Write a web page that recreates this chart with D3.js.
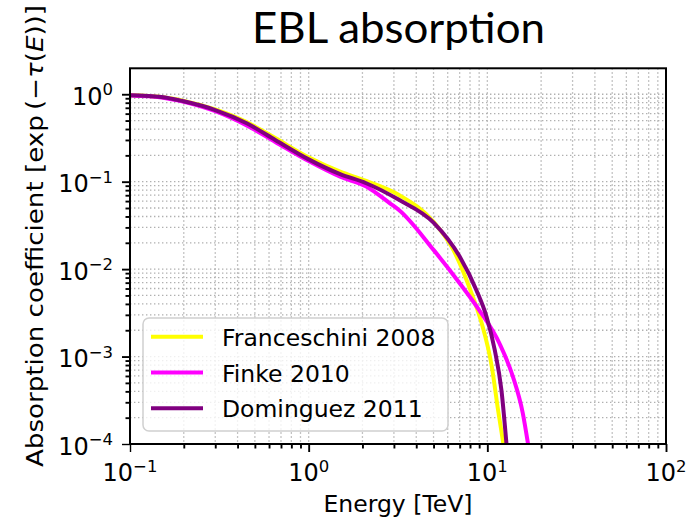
<!DOCTYPE html>
<html>
<head>
<meta charset="utf-8">
<script src="https://cdn.jsdelivr.net/npm/d3@7"></script>
<style>
  body { margin: 0; background: #fff; }
  text { font-family: "DejaVu Sans", sans-serif; fill: #000; }
</style>
</head>
<body>
<div id="chart"></div>
<script>
var width = 697,
    height = 519;

// EBL models: energy [TeV] and exp(-tau)
var energyFranceschini = [0.1, 0.15, 0.2, 0.3, 0.45, 0.65, 1.0, 1.5, 2.1, 3.2, 5.0, 6.45, 8.3, 9.3, 10.6, 11.5, 12.3];
var absFranceschini = [0.975, 0.93, 0.84, 0.67, 0.48, 0.315, 0.19, 0.13, 0.102, 0.0705, 0.0348, 0.0166, 0.0048, 0.0024, 0.00076, 0.00024, 0.0001];

var energyFinke = [0.1, 0.15, 0.2, 0.3, 0.45, 0.65, 1.0, 1.5, 2.1, 2.85, 3.2, 5.0, 7.0, 9.0, 11.7, 13.9, 15.8, 16.9];
var absFinke = [0.97, 0.92, 0.82, 0.64, 0.44, 0.285, 0.172, 0.114, 0.088, 0.0566, 0.0475, 0.0166, 0.0069, 0.0034, 0.00141, 0.00059, 0.000224, 0.0001];

var energyDominguez = [0.1, 0.15, 0.2, 0.3, 0.45, 0.65, 1.0, 1.5, 2.1, 3.2, 5.0, 7.0, 8.7, 9.9, 11.0, 12.0, 12.8];
var absDominguez = [0.975, 0.93, 0.83, 0.66, 0.466, 0.30, 0.18, 0.122, 0.096, 0.062, 0.034, 0.0139, 0.0057, 0.00285, 0.00119, 0.00041, 0.0001];

var seriesNames = ["Franceschini 2008", "Finke 2010", "Dominguez 2011"];
var seriesColors = ["#ffff00", "#ff00ff", "#800080"];

var xMajor = [0.1, 1, 10, 100];
var yMajor = [1e-4, 1e-3, 1e-2, 1e-1, 1];

var plotLeft = 130, plotRight = 666, plotTop = 68.3, plotBottom = 444;

var svg = d3.select("#chart").append("svg")
    .attr("width", width)
    .attr("height", height);

var x = d3.scaleLog().domain([0.1, 100]).range([plotLeft, plotRight]);
var y = d3.scaleLog().domain([1e-4, 1.98]).range([plotBottom, plotTop]);

// minor positions 2..9 in each decade
function minors(lo, hi) {
    var out = [];
    for (var e = lo; e < hi; e++) {
        for (var k = 2; k <= 9; k++) out.push(k * Math.pow(10, e));
    }
    return out;
}
var xMinor = minors(-1, 2);
var yMinor = minors(-4, 0);

/** grid, both major and minor, dotted */
var grid = svg.append("g").attr("class", "grid");
grid.selectAll(".vgrid")
    .data(xMajor.concat(xMinor))
    .enter().append("line")
    .attr("x1", function(d) { return x(d); })
    .attr("x2", function(d) { return x(d); })
    .attr("y1", plotTop)
    .attr("y2", plotBottom)
    .attr("stroke", "#b0b0b0")
    .attr("stroke-width", 1.3)
    .attr("stroke-dasharray", "1.4,2.6");
grid.selectAll(".hgrid")
    .data(yMajor.concat(yMinor))
    .enter().append("line")
    .attr("x1", plotLeft)
    .attr("x2", plotRight)
    .attr("y1", function(d) { return y(d); })
    .attr("y2", function(d) { return y(d); })
    .attr("stroke", "#b0b0b0")
    .attr("stroke-width", 1.3)
    .attr("stroke-dasharray", "1.4,2.6");

/** curves */
svg.append("clipPath").attr("id", "plot-clip")
    .append("rect")
    .attr("x", plotLeft).attr("y", plotTop)
    .attr("width", plotRight - plotLeft).attr("height", plotBottom - plotTop);

var line = d3.line()
    .x(function(d) { return x(d[0]); })
    .y(function(d) { return y(d[1]); })
    .curve(d3.curveMonotoneX);

var curves = [
    d3.zip(energyFranceschini, absFranceschini),
    d3.zip(energyFinke, absFinke),
    d3.zip(energyDominguez, absDominguez)
];

svg.append("g")
    .attr("clip-path", "url(#plot-clip)")
    .selectAll(".model")
    .data(curves)
    .enter().append("path")
    .attr("class", "model")
    .attr("fill", "none")
    .attr("stroke", function(d, i) { return seriesColors[i]; })
    .attr("stroke-width", 4)
    .attr("d", line);

/** axes */
var xAxis = svg.append("g").attr("transform", "translate(0," + plotBottom + ")");
xAxis.call(d3.axisBottom(x).tickValues(xMajor).tickSize(8).tickFormat(""));
xAxis.append("g").call(d3.axisBottom(x).tickValues(xMinor).tickSize(4.5).tickFormat(""));

var yAxis = svg.append("g").attr("transform", "translate(" + plotLeft + ",0)");
yAxis.call(d3.axisLeft(y).tickValues(yMajor).tickSize(8).tickFormat(""));
yAxis.append("g").call(d3.axisLeft(y).tickValues(yMinor).tickSize(4.5).tickFormat(""));

svg.selectAll(".domain").remove();
xAxis.selectAll(".tick line").attr("stroke", "#000").attr("stroke-width", 1.9);
yAxis.selectAll(".tick line").attr("stroke", "#000").attr("stroke-width", 1.9);
xAxis.select("g").selectAll(".tick line").attr("stroke-width", 1.4);
yAxis.select("g").selectAll(".tick line").attr("stroke-width", 1.4);

svg.append("rect")
    .attr("x", plotLeft).attr("y", plotTop)
    .attr("width", plotRight - plotLeft).attr("height", plotBottom - plotTop)
    .attr("fill", "none")
    .attr("stroke", "#000")
    .attr("stroke-width", 2);

// power-of-ten tick labels
function powLabel(sel, d) {
    var e = Math.round(Math.log10(d));
    sel.append("tspan").text("10");
    sel.append("tspan")
        .attr("dy", -9.5)
        .style("font-size", "16.5px")
        .text(e < 0 ? "\u2212" + (-e) : e);
}

svg.selectAll(".xlabel-tick")
    .data(xMajor)
    .enter().append("text")
    .attr("class", "xlabel-tick")
    .attr("x", function(d) { return x(d); })
    .attr("y", 481)
    .style("font-size", "24px")
    .style("text-anchor", "middle")
    .each(function(d) { powLabel(d3.select(this), d); });

svg.selectAll(".ylabel-tick")
    .data(yMajor)
    .enter().append("text")
    .attr("class", "ylabel-tick")
    .attr("x", 113)
    .attr("y", function(d) { return y(d) + 10.5; })
    .style("font-size", "24px")
    .style("text-anchor", "end")
    .each(function(d) { powLabel(d3.select(this), d); });

/** axis titles */
svg.append("text")
    .attr("x", (plotLeft + plotRight) / 2)
    .attr("y", 512)
    .style("font-size", "23.5px")
    .style("text-anchor", "middle")
    .text("Energy [TeV]");

var yTitle = svg.append("text")
    .attr("transform", "translate(43,467) rotate(-90)")
    .attr("x", 0).attr("y", 0)
    .attr("textLength", 462)
    .attr("lengthAdjust", "spacingAndGlyphs")
    .style("font-size", "23.5px");
yTitle.append("tspan").text("Absorption coefficient [exp\u2009(\u2212");
yTitle.append("tspan").style("font-style", "italic").text("\u03c4");
yTitle.append("tspan").text("(");
yTitle.append("tspan").style("font-style", "italic").text("E");
yTitle.append("tspan").text("))]");

svg.append("text")
    .attr("x", 252)
    .attr("y", 43)
    .attr("textLength", 293)
    .attr("lengthAdjust", "spacingAndGlyphs")
    .style("font-family", "Lato, 'Open Sans', sans-serif")
    .style("font-size", "42px")
    .text("EBL absorption");

/** legend */
var legend = svg.append("g").attr("class", "legend");
legend.append("rect")
    .attr("x", 143).attr("y", 318)
    .attr("width", 305).attr("height", 113)
    .attr("rx", 6)
    .attr("fill", "#fff")
    .attr("fill-opacity", 0.8)
    .attr("stroke", "#d0d0d0")
    .attr("stroke-width", 1.5);

var entries = legend.selectAll(".entry")
    .data(seriesNames)
    .enter().append("g")
    .attr("class", "entry")
    .attr("transform", function(d, i) { return "translate(0," + (336.7 + i * 35.8) + ")"; });
entries.append("line")
    .attr("x1", 151).attr("x2", 203)
    .attr("stroke", function(d, i) { return seriesColors[i]; })
    .attr("stroke-width", 4);
entries.append("text")
    .attr("x", 222)
    .attr("y", 9)
    .style("font-size", "23.5px")
    .text(function(d) { return d; });
</script>
</body>
</html>
